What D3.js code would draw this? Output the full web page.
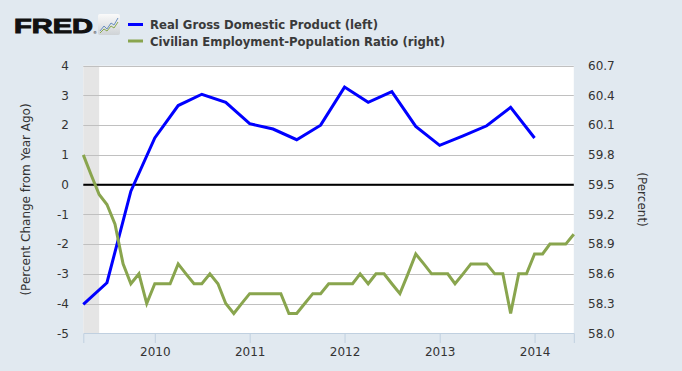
<!DOCTYPE html>
<html>
<head>
<meta charset="utf-8">
<script src="https://cdn.jsdelivr.net/npm/d3@7"></script>
<style>
  body { margin: 0; background: #e1e9f0; }
  svg { display: block; font-family: "DejaVu Sans", Verdana, sans-serif; }
</style>
</head>
<body>
<svg id="chart" width="682" height="371"></svg>
<script>
// quarterly GDP, percent change from year ago (left axis)
var gdpDates = ["2009-04-01","2009-07-01","2009-10-01","2010-01-01","2010-04-01","2010-07-01","2010-10-01",
  "2011-01-01","2011-04-01","2011-07-01","2011-10-01","2012-01-01","2012-04-01","2012-07-01","2012-10-01",
  "2013-01-01","2013-04-01","2013-07-01","2013-10-01","2014-01-01"];
var gdpValues = [-4.03, -3.3, -0.22, 1.57, 2.66, 3.04, 2.77, 2.05, 1.87, 1.51, 2.0, 3.28, 2.77, 3.13, 1.96,
  1.32, 1.64, 1.98, 2.6, 1.57];

// monthly employment-population ratio (right axis), Apr 2009 .. Jun 2014
var empStart = "2009-04-01";
var empValues = [59.8, 59.6, 59.4, 59.3, 59.1, 58.7, 58.5, 58.6, 58.3,
  58.5, 58.5, 58.5, 58.7, 58.6, 58.5, 58.5, 58.6, 58.5, 58.3, 58.2, 58.3,
  58.4, 58.4, 58.4, 58.4, 58.4, 58.2, 58.2, 58.3, 58.4, 58.4, 58.5, 58.5,
  58.5, 58.5, 58.6, 58.5, 58.6, 58.6, 58.5, 58.4, 58.6, 58.8, 58.7, 58.6,
  58.6, 58.6, 58.5, 58.6, 58.7, 58.7, 58.7, 58.6, 58.6, 58.2, 58.6, 58.6,
  58.8, 58.8, 58.9, 58.9, 58.9, 59.0];

var leftTicks = [4, 3, 2, 1, 0, -1, -2, -3, -4, -5];
var rightTicks = [60.7, 60.4, 60.1, 59.8, 59.5, 59.2, 58.9, 58.6, 58.3, 58.0];
var yearTicks = [2010, 2011, 2012, 2013, 2014];
var recession = ["2009-04-01", "2009-06-01"];

var parse = d3.timeParse("%Y-%m-%d");
var svg = d3.select("#chart");

var plot = {left: 83.3, right: 573.8, top: 65.7, bottom: 333.3};

var x = d3.scaleTime()
    .domain([parse("2009-04-01"), parse("2014-06-01")])
    .range([plot.left, plot.right]);
var yLeft = d3.scaleLinear().domain([-5, 4]).range([plot.bottom, plot.top]);
var yRight = d3.scaleLinear().domain([58.0, 60.7]).range([plot.bottom, plot.top]);

var gdp = gdpDates.map(function(d, i) { return {date: parse(d), value: gdpValues[i]}; });
var empDates = d3.timeMonth.range(parse(empStart), d3.timeMonth.offset(parse(empStart), empValues.length));
var emp = empValues.map(function(v, i) { return {date: empDates[i], value: v}; });

// plot background
svg.append("rect")
  .attr("x", plot.left).attr("y", plot.top)
  .attr("width", plot.right - plot.left).attr("height", plot.bottom - plot.top)
  .attr("fill", "#fff");

// recession shading
svg.append("rect")
  .attr("x", x(parse(recession[0]))).attr("y", plot.top)
  .attr("width", x(parse(recession[1])) - x(parse(recession[0])))
  .attr("height", plot.bottom - plot.top)
  .attr("fill", "#e5e5e5");

// gridlines
svg.append("g").selectAll("line")
  .data(leftTicks.filter(function(d) { return d !== -5; }))
  .enter().append("line")
    .attr("x1", plot.left).attr("x2", plot.right)
    .attr("y1", function(d) { return Math.round(yLeft(d)) + 0.5; })
    .attr("y2", function(d) { return Math.round(yLeft(d)) + 0.5; })
    .attr("stroke", "#c0c0c0");

// bottom axis
var xAxis = d3.axisBottom(x)
  .tickValues(yearTicks.map(function(y) { return new Date(y, 0, 1); }))
  .tickFormat(d3.timeFormat("%Y"))
  .tickSize(10).tickPadding(4);
var gx = svg.append("g")
  .attr("transform", "translate(0," + Math.round(plot.bottom) + ")")
  .call(xAxis);
gx.select(".domain").attr("stroke", "#c0d0e0");
gx.selectAll(".tick line").attr("stroke", "#c0d0e0");
gx.selectAll(".tick text").attr("fill", "#333").style("font-size", "12px")
  .style("font-family", "DejaVu Sans, Verdana, sans-serif");

// left axis labels
svg.append("g").selectAll("text")
  .data(leftTicks)
  .enter().append("text")
    .attr("x", 69).attr("y", function(d) { return yLeft(d); })
    .attr("dy", "0.36em")
    .attr("text-anchor", "end")
    .attr("fill", "#333").style("font-size", "12px")
    .text(function(d) { return d; });

// right axis labels
svg.append("g").selectAll("text")
  .data(rightTicks)
  .enter().append("text")
    .attr("x", 588).attr("y", function(d) { return yRight(d); })
    .attr("dy", "0.36em")
    .attr("fill", "#333").style("font-size", "12px")
    .text(function(d) { return d3.format(".1f")(d); });

// axis titles
svg.append("text")
  .attr("transform", "translate(30," + ((plot.top + plot.bottom) / 2) + ") rotate(-90)")
  .attr("text-anchor", "middle")
  .attr("fill", "#333").style("font-size", "12px")
  .text("(Percent Change from Year Ago)");
svg.append("text")
  .attr("transform", "translate(638," + ((plot.top + plot.bottom) / 2) + ") rotate(90)")
  .attr("text-anchor", "middle")
  .attr("fill", "#333").style("font-size", "12px")
  .text("(Percent)");

// zero line
svg.append("line")
  .attr("x1", plot.left).attr("x2", plot.right)
  .attr("y1", yLeft(0)).attr("y2", yLeft(0))
  .attr("stroke", "#000").attr("stroke-width", 2);

// series lines
var lineLeft = d3.line()
  .x(function(d) { return x(d.date); })
  .y(function(d) { return yLeft(d.value); });
var lineRight = d3.line()
  .x(function(d) { return x(d.date); })
  .y(function(d) { return yRight(d.value); });

svg.append("path").datum(gdp)
  .attr("d", lineLeft)
  .attr("fill", "none").attr("stroke", "#0000ff").attr("stroke-width", 3)
  .attr("stroke-linejoin", "miter");
svg.append("path").datum(emp)
  .attr("d", lineRight)
  .attr("fill", "none").attr("stroke", "#89a54e").attr("stroke-width", 3)
  .attr("stroke-linejoin", "miter");

// FRED logo
svg.append("text")
  .attr("x", 14).attr("y", 33)
  .attr("textLength", 79).attr("lengthAdjust", "spacingAndGlyphs")
  .style("font-family", "Liberation Sans, Arial, sans-serif")
  .style("font-size", "21px").style("font-weight", "900")
  .attr("stroke", "#111").attr("stroke-width", 1)
  .attr("fill", "#111")
  .text("FRED");
svg.append("text")
  .attr("x", 93).attr("y", 34)
  .style("font-size", "4px").attr("fill", "#111")
  .text("®");
var icon = svg.append("g").attr("transform", "translate(98,14)");
var grad = svg.append("defs").append("linearGradient")
  .attr("id", "iconGrad").attr("x1", 0).attr("y1", 0).attr("x2", 0).attr("y2", 1);
grad.append("stop").attr("offset", "0%").attr("stop-color", "#fafafa");
grad.append("stop").attr("offset", "100%").attr("stop-color", "#cfd3d6");
icon.append("rect").attr("width", 22).attr("height", 21).attr("rx", 2).attr("fill", "url(#iconGrad)");
icon.append("polyline")
  .attr("points", "2,17 6,12 9,15 13,9 16,11 20,4")
  .attr("fill", "none").attr("stroke", "#6a8fc0").attr("stroke-width", 1);
icon.append("polyline")
  .attr("points", "2,19 6,15 9,17 13,12 16,14 20,8")
  .attr("fill", "none").attr("stroke", "#8aa84e").attr("stroke-width", 1);

// legend
var legend = [
  {label: "Real Gross Domestic Product (left)", color: "#0000ff", y: 24.5, len: 228},
  {label: "Civilian Employment-Population Ratio (right)", color: "#89a54e", y: 41, len: 295}
];
var lg = svg.append("g").selectAll("g").data(legend).enter().append("g");
lg.append("line")
  .attr("x1", 128).attr("x2", 143)
  .attr("y1", function(d) { return d.y; }).attr("y2", function(d) { return d.y; })
  .attr("stroke", function(d) { return d.color; }).attr("stroke-width", 3);
lg.append("text")
  .attr("x", 150).attr("y", function(d) { return d.y + 4.5; })
  .attr("textLength", function(d) { return d.len; })
  .attr("lengthAdjust", "spacingAndGlyphs")
  .attr("fill", "#3a3a3a")
  .style("font-size", "12px").style("font-weight", "bold")
  .text(function(d) { return d.label; });
</script>
</body>
</html>
